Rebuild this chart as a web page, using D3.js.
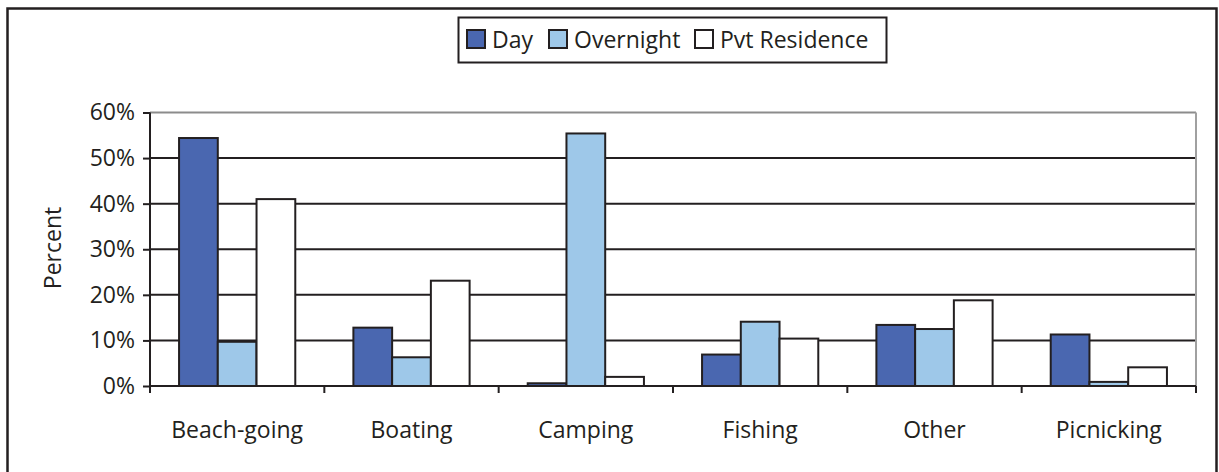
<!DOCTYPE html>
<html lang="en">
  <head>
    <meta charset="utf-8">
    <title>Activities by visitor type</title>
    <script type="text/javascript" src="https://d3js.org/d3.v7.min.js"></script>
    <style type="text/css">
      body { margin: 0; background: #fff; }
      text { font-family: "Open Sans", sans-serif; fill: #231f20; }
    </style>
  </head>
  <body>
    <script type="text/javascript">

      var categories = ["Beach-going", "Boating", "Camping", "Fishing", "Other", "Picnicking"];
      var seriesNames = ["Day", "Overnight", "Pvt Residence"];
      var dayValues = [54.4, 12.8, 0.6, 6.9, 13.4, 11.3];
      var overnightValues = [9.7, 6.3, 55.4, 14.1, 12.5, 0.9];
      var pvtValues = [41.0, 23.1, 2.0, 10.4, 18.8, 4.1];
      var yTicks = [0, 10, 20, 30, 40, 50, 60];
      var colors = ["#4a67b0", "#9ec8e9", "#ffffff"];

      var w = 1219;
      var h = 472;
      var plotLeft = 150, plotRight = 1196, plotTop = 112.5, plotBottom = 386;
      var fontSize = "23px";

      var svg = d3.select("body")
            .append("svg")
            .attr("width", w)
            .attr("height", h);

      //outer frame
      svg.append("rect")
         .attr("x", 7.5).attr("y", 8.5)
         .attr("width", 1209).attr("height", 470)
         .attr("fill", "none")
         .attr("stroke", "#231f20")
         .attr("stroke-width", 2.5);

      var xScale = d3.scaleBand()
              .domain(categories)
              .range([plotLeft, plotRight]);

      var inner = d3.scaleBand()
              .domain(seriesNames)
              .range([0, xScale.bandwidth()])
              .paddingOuter(0.75)
              .paddingInner(0);

      var yScale = d3.scaleLinear()
              .domain([0, 60])
              .range([plotBottom, plotTop]);

      //gridlines
      svg.selectAll("line.grid")
         .data(yTicks.filter(function(d) { return d > 0; }))
         .enter()
         .append("line")
         .attr("x1", plotLeft).attr("x2", plotRight)
         .attr("y1", function(d) { return yScale(d); })
         .attr("y2", function(d) { return yScale(d); })
         .attr("stroke", function(d) { return d === 60 ? "#8c8c8c" : "#231f20"; })
         .attr("stroke-width", 2);

      //right side of plot area
      svg.append("line")
         .attr("x1", plotRight).attr("x2", plotRight)
         .attr("y1", plotTop).attr("y2", plotBottom)
         .attr("stroke", "#a0a0a0")
         .attr("stroke-width", 2);

      var series = seriesNames.map(function(name, i) {
        var vals = [dayValues, overnightValues, pvtValues][i];
        return categories.map(function(c, j) {
          return { cat: c, name: name, value: vals[j], color: colors[i] };
        });
      });

      //bars
      svg.selectAll("g.series")
         .data(series)
         .enter()
         .append("g")
         .selectAll("rect")
         .data(function(d) { return d; })
         .enter()
         .append("rect")
         .attr("x", function(d) { return xScale(d.cat) + inner(d.name); })
         .attr("y", function(d) { return yScale(d.value); })
         .attr("width", inner.bandwidth())
         .attr("height", function(d) { return plotBottom - yScale(d.value); })
         .attr("fill", function(d) { return d.color; })
         .attr("stroke", "#231f20")
         .attr("stroke-width", 2);

      //y axis
      var yAxis = d3.axisLeft(yScale)
              .tickValues(yTicks)
              .tickSize(7)
              .tickPadding(8)
              .tickFormat(function(d) { return d + "%"; });

      var gy = svg.append("g")
         .attr("transform", "translate(" + plotLeft + ",0)")
         .call(yAxis);
      gy.select(".domain").attr("stroke", "#231f20").attr("stroke-width", 2)
         .attr("d", "M0," + plotTop + "V" + (plotBottom + 7));
      gy.selectAll(".tick line").attr("stroke", "#231f20").attr("stroke-width", 2);
      gy.selectAll(".tick text")
         .style("font-size", fontSize)
         .style("font-family", "'Open Sans', sans-serif")
         .attr("fill", "#231f20");

      //x axis
      svg.append("line")
         .attr("x1", plotLeft).attr("x2", plotRight)
         .attr("y1", plotBottom).attr("y2", plotBottom)
         .attr("stroke", "#231f20")
         .attr("stroke-width", 2);

      svg.selectAll("line.xtick")
         .data(categories.concat(["end"]))
         .enter()
         .append("line")
         .attr("x1", function(d, i) { return plotLeft + i * xScale.step(); })
         .attr("x2", function(d, i) { return plotLeft + i * xScale.step(); })
         .attr("y1", plotBottom).attr("y2", plotBottom + 7)
         .attr("stroke", "#231f20")
         .attr("stroke-width", 2);

      svg.selectAll("text.xlabel")
         .data(categories)
         .enter()
         .append("text")
         .attr("x", function(d) { return xScale(d) + xScale.bandwidth() / 2; })
         .attr("y", 438)
         .attr("text-anchor", "middle")
         .style("font-size", fontSize)
         .text(function(d) { return d; });

      //y title
      svg.append("text")
         .attr("transform", "translate(61,248) rotate(-90)")
         .attr("text-anchor", "middle")
         .style("font-size", fontSize)
         .text("Percent");

      //legend
      var legend = svg.append("g");
      legend.append("rect")
         .attr("x", 458.5).attr("y", 17.5)
         .attr("width", 428).attr("height", 45)
         .attr("fill", "#fff")
         .attr("stroke", "#231f20")
         .attr("stroke-width", 2);

      var legendX = [467, 549, 695];
      var items = legend.selectAll("g.item")
         .data(seriesNames)
         .enter()
         .append("g")
         .attr("transform", function(d, i) { return "translate(" + legendX[i] + ",0)"; });
      items.append("rect")
         .attr("x", 0).attr("y", 30)
         .attr("width", 18).attr("height", 18)
         .attr("fill", function(d, i) { return colors[i]; })
         .attr("stroke", "#231f20")
         .attr("stroke-width", 2);
      items.append("text")
         .attr("x", 25).attr("y", 48)
         .style("font-size", fontSize)
         .text(function(d) { return d; });

    </script>
  </body>
</html>
